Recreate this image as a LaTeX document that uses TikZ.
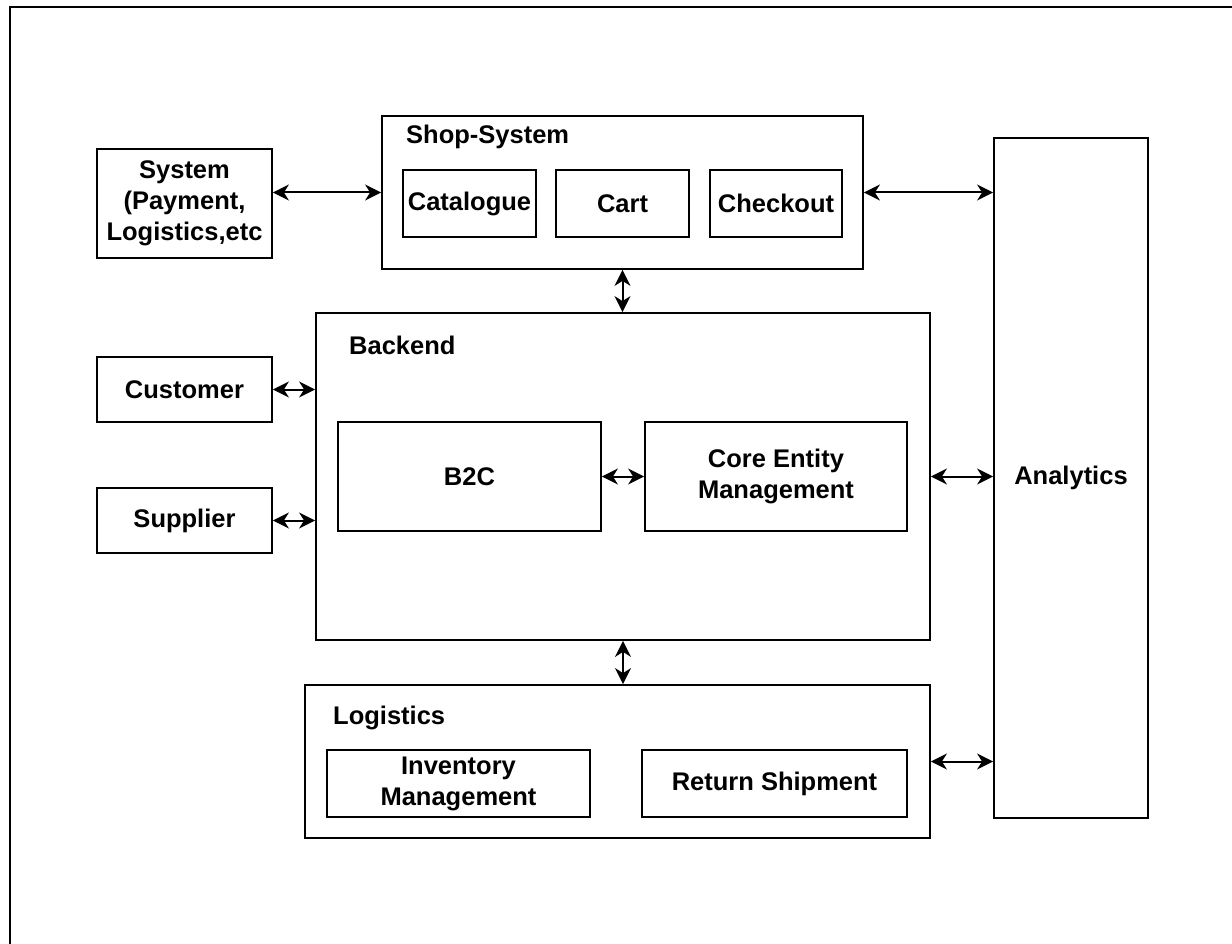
\documentclass[tikz,border=0pt]{standalone}
\usepackage{fontspec}
\setmainfont{Liberation Sans}
\usetikzlibrary{arrows.meta}
\begin{document}
\begin{tikzpicture}[x=1pt,y=-1pt,
  box/.style={draw=black, line width=1.8pt, inner sep=0pt, align=center,
    font=\bfseries\fontsize{25.5}{31}\selectfont},
  title/.style={anchor=west, inner sep=0pt, font=\bfseries\fontsize{25.5}{31}\selectfont},
  tip/.style={Stealth[length=16pt,width=16pt,inset=5pt]},
  link/.style={{Stealth[length=16pt,width=16pt,inset=5pt]}-{Stealth[length=16pt,width=16pt,inset=5pt]}, line width=2pt}]
\useasboundingbox (0,0) rectangle (1232,944);
\draw[line width=1.8pt] (10,944) -- (10,7) -- (1232,7);
% boxes
\node[box, minimum width=175pt, minimum height=109pt] (sys) at (184.5,203.5) {System\\(Payment,\\Logistics,etc};
\node[box, minimum width=481pt, minimum height=153pt] (shop) at (622.5,192.5) {};
\node[title] (shopt) at (406,137) {Shop-System};
\node[box, minimum width=133pt, minimum height=67pt] (cat) at (469.5,203.5) {Catalogue};
\node[box, minimum width=133pt, minimum height=67pt] (cart) at (622.5,203.5) {Cart};
\node[box, minimum width=132pt, minimum height=67pt] (chk) at (776,203.5) {Checkout};
\node[box, minimum width=154pt, minimum height=680pt] (ana) at (1071,478) {Analytics};
\node[box, minimum width=614pt, minimum height=327pt] (backend) at (623,476.5) {};
\node[title] (backt) at (349,345) {Backend};
\node[box, minimum width=263pt, minimum height=109pt] (b2c) at (469.5,476.5) {B2C};
\node[box, minimum width=262pt, minimum height=109pt] (core) at (776,476.5) {Core Entity\\Management};
\node[box, minimum width=175pt, minimum height=65pt] (cust) at (184.5,389.5) {Customer};
\node[box, minimum width=175pt, minimum height=65pt] (supp) at (184.5,520.5) {Supplier};
\node[box, minimum width=625pt, minimum height=153pt] (log) at (617.5,761.5) {};
\node[title] (logt) at (333,718) {Logistics};
\node[box, minimum width=263pt, minimum height=67pt] (inv) at (458.5,783.5) {Inventory\\Management};
\node[box, minimum width=265pt, minimum height=67pt] (ret) at (774.5,783.5) {Return Shipment};
% connectors
\draw[link] (sys.east |- shop.west) -- (shop.west);
\draw[link] (shop.east) -- (ana.west |- shop.east);
\draw[link] (shop.south) -- (backend.north -| shop.south);
\draw[link] (cust.east) -- (backend.west |- cust.east);
\draw[link] (supp.east) -- (backend.west |- supp.east);
\draw[link] (b2c.east) -- (core.west);
\draw[link] (backend.east) -- (ana.west |- backend.east);
\draw[link] (backend.south) -- (log.north -| backend.south);
\draw[link] (log.east) -- (ana.west |- log.east);
\end{tikzpicture}
\end{document}
